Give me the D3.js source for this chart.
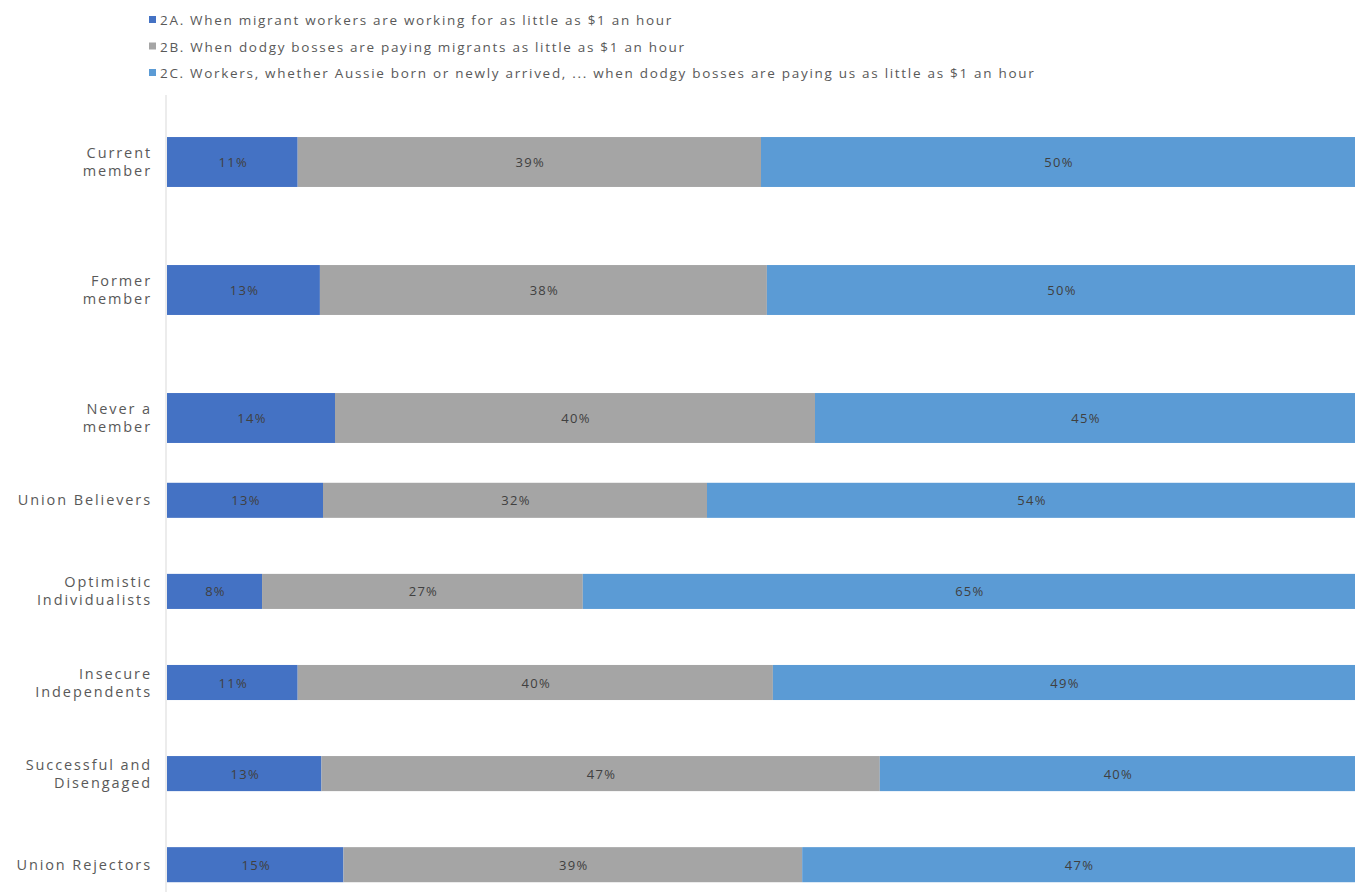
<!DOCTYPE html>
<html lang="en">
<head>
  <meta charset="UTF-8">
  <title>Migrant worker messages</title>
  <script src="https://d3js.org/d3.v7.min.js"></script>
  <style>
    body { margin: 0; background: #fff; }
    text { font-family: "Open Sans", "Noto Sans", sans-serif; }
    .cat { fill: #595959; font-size: 14.5px; letter-spacing: 1.9px; }
    .lbl { fill: #404040; font-size: 13px; letter-spacing: 1.3px; }
    .leg { fill: #595959; font-size: 13.5px; letter-spacing: 1.7px; }
  </style>
</head>
<body>
  <svg id="chart" width="1362" height="896"></svg>
  <script>
    // membership group (tall bars) and segment group (thin bars)
    const membership = ['Current member', 'Former member', 'Never a member'];
    const segments = ['Union Believers', 'Optimistic Individualists', 'Insecure Independents',
      'Successful and Disengaged', 'Union Rejectors'];
    const categories = membership.concat(segments);

    const seriesNames = [
      '2A. When migrant workers are working for as little as $1 an hour',
      '2B. When dodgy bosses are paying migrants as little as $1 an hour',
      '2C. Workers, whether Aussie born or newly arrived, ... when dodgy bosses are paying us as little as $1 an hour'
    ];
    const colors = ['#4472c4', '#a5a5a5', '#5b9bd5'];

    const s2A = [11, 13, 14, 13, 8, 11, 13, 15];
    const s2B = [39, 38, 40, 32, 27, 40, 47, 39];
    const s2C = [50, 50, 45, 54, 65, 49, 40, 47];

    // wrapped label lines
    const labelLines = {
      'Current member': ['Current', 'member'],
      'Former member': ['Former', 'member'],
      'Never a member': ['Never a', 'member'],
      'Union Believers': ['Union Believers'],
      'Optimistic Individualists': ['Optimistic', 'Individualists'],
      'Insecure Independents': ['Insecure', 'Independents'],
      'Successful and Disengaged': ['Successful and', 'Disengaged'],
      'Union Rejectors': ['Union Rejectors']
    };

    const rows = categories.map((c, i) => ({ cat: c, a: s2A[i], b: s2B[i], c: s2C[i] }));

    const svg = d3.select('#chart');
    const left = 167, right = 1355;

    const x = d3.scaleLinear().domain([0, 1]).range([left, right]);

    const yTop = d3.scaleBand().domain(membership).range([98, 482]).paddingInner(0.61).paddingOuter(0.305);
    const yBot = d3.scaleBand().domain(segments).range([455, 910]).paddingInner(0.615).paddingOuter(0.305);
    const yPos = (c) => membership.includes(c) ? yTop(c) : yBot(c);
    const yBw = (c) => membership.includes(c) ? yTop.bandwidth() : yBot.bandwidth();

    const stack = d3.stack().keys(['a', 'b', 'c']).offset(d3.stackOffsetExpand);
    const stacked = stack(rows);

    // vertical axis line
    svg.append('line')
      .attr('x1', left - 1).attr('x2', left - 1)
      .attr('y1', 95).attr('y2', 892)
      .attr('stroke', '#d9d9d9').attr('stroke-width', 1);

    const layers = svg.append('g').selectAll('g')
      .data(stacked)
      .join('g')
      .attr('fill', (d, i) => colors[i]);

    layers.selectAll('rect')
      .data(d => d)
      .join('rect')
      .attr('x', d => x(d[0]))
      .attr('width', d => x(d[1]) - x(d[0]))
      .attr('y', d => yPos(d.data.cat))
      .attr('height', d => yBw(d.data.cat));

    layers.selectAll('text')
      .data((d) => d.map(v => ({ v, key: d.key })))
      .join('text')
      .attr('class', 'lbl')
      .attr('x', d => (x(d.v[0]) + x(d.v[1])) / 2 + 1)
      .attr('y', d => yPos(d.v.data.cat) + yBw(d.v.data.cat) / 2)
      .attr('text-anchor', 'middle')
      .attr('dominant-baseline', 'central')
      .text(d => d.v.data[d.key] + '%');

    // category labels
    const cats = svg.append('g').selectAll('text')
      .data(categories)
      .join('text')
      .attr('class', 'cat')
      .attr('text-anchor', 'end')
      .attr('x', 152)
      .attr('y', c => yPos(c) + yBw(c) / 2);

    cats.selectAll('tspan')
      .data(c => labelLines[c].map((t, i, arr) => ({ t, i, n: arr.length })))
      .join('tspan')
      .attr('x', 152)
      .attr('dy', d => d.i === 0 ? ((-(d.n - 1) * 18) / 2 + 5) + 'px' : '18px')
      .text(d => d.t);

    // legend
    const legend = svg.append('g').selectAll('g')
      .data(seriesNames)
      .join('g')
      .attr('transform', (d, i) => `translate(149, ${20 + i * 26.5})`);

    legend.append('rect')
      .attr('x', 0).attr('y', -4)
      .attr('width', 7).attr('height', 7)
      .attr('fill', (d, i) => colors[i]);

    legend.append('text')
      .attr('class', 'leg')
      .attr('x', 11)
      .attr('y', 0)
      .attr('dominant-baseline', 'central')
      .text(d => d);
  </script>
</body>
</html>
